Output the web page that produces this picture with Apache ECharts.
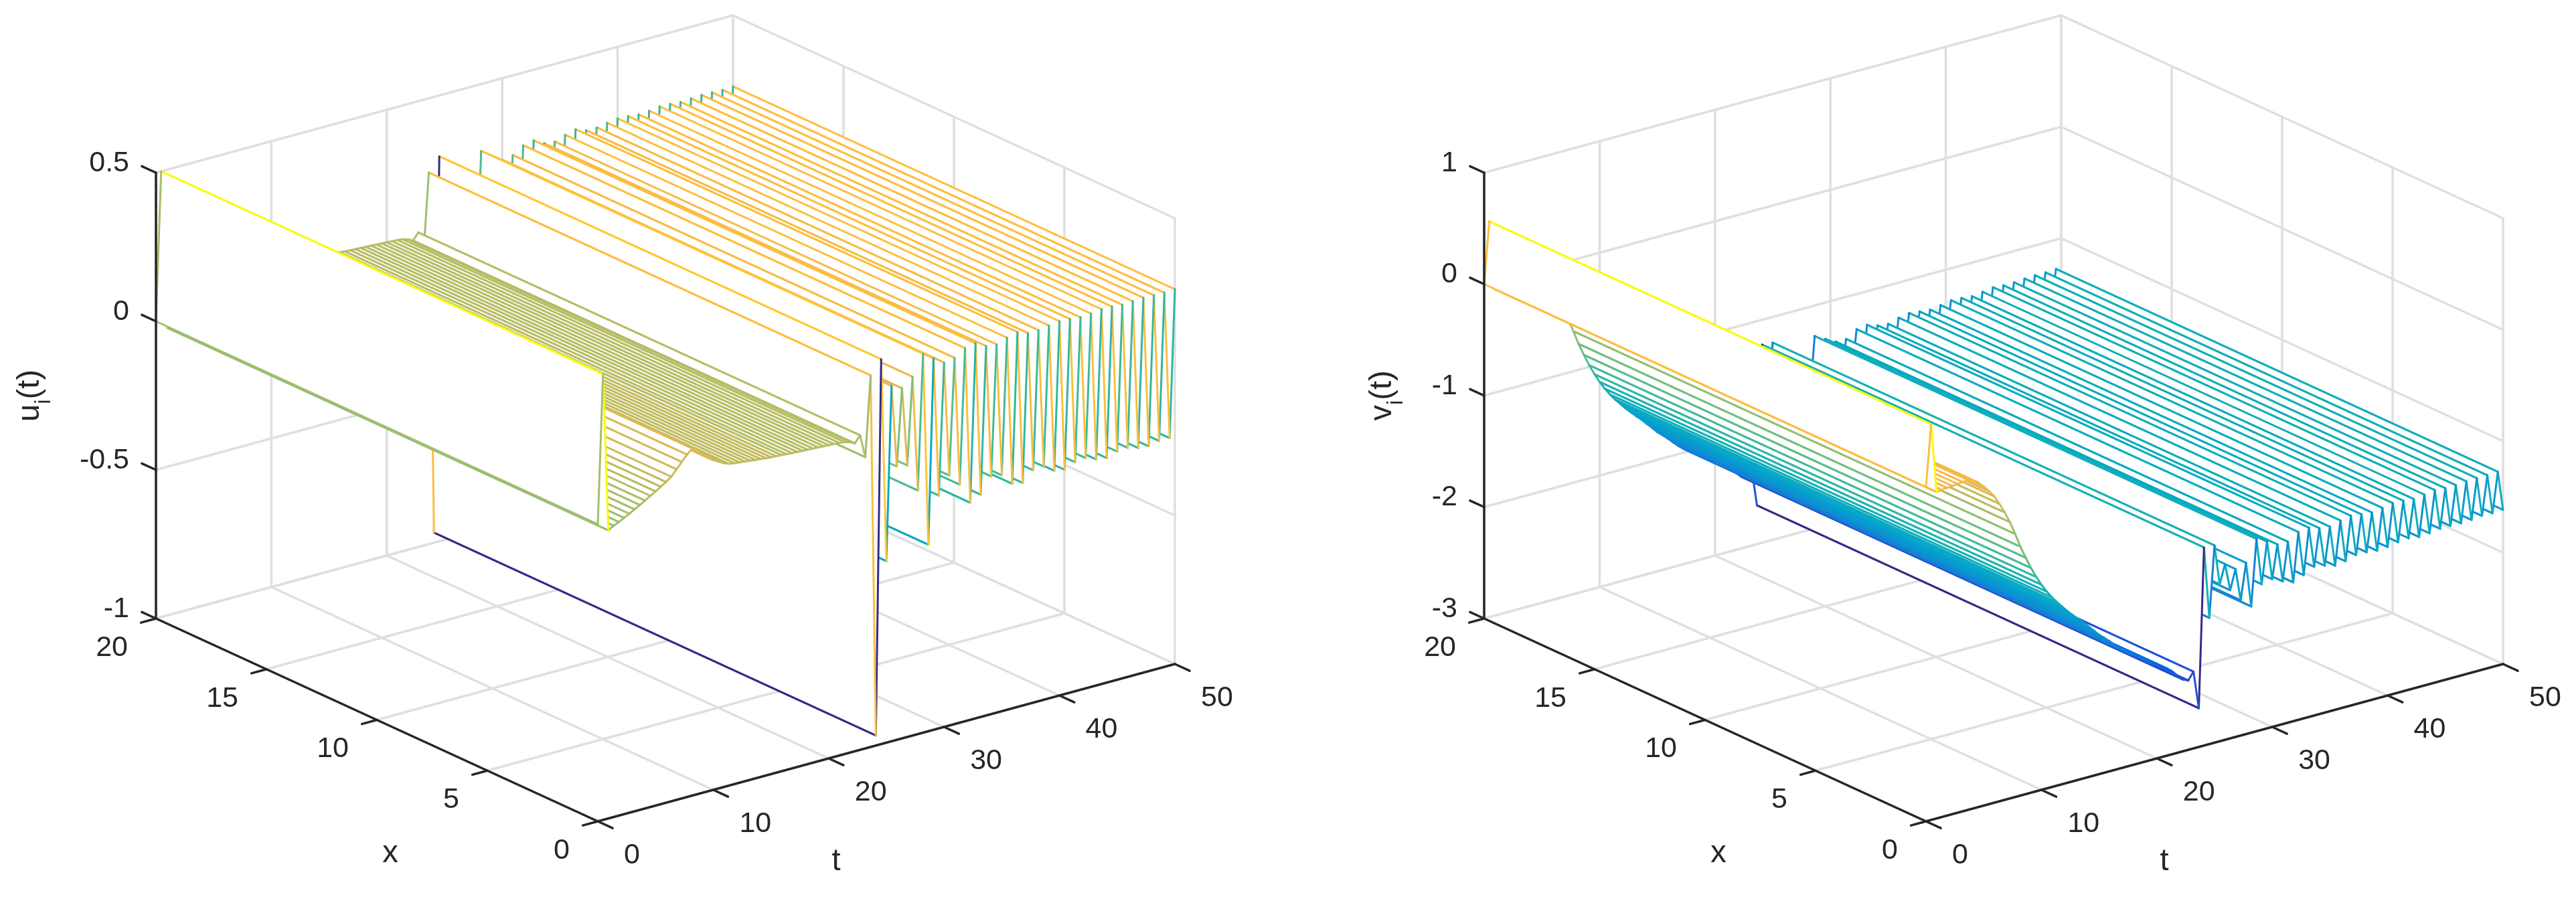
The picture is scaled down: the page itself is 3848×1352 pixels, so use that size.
<!DOCTYPE html>
<html>
<head>
<meta charset="utf-8">
<title>u_i(t), v_i(t)</title>
<script src="https://cdn.jsdelivr.net/npm/echarts@6/dist/echarts.min.js"></script>
<style>
  html, body { margin: 0; padding: 0; background: #fff; }
  #main { width: 3848px; height: 1352px; }
</style>
</head>
<body>
<div id="main"></div>
<script>
var tTicks = [0, 10, 20, 30, 40, 50];
var xTicks = [0, 5, 10, 15, 20];
var uTicks = [-1, -0.5, 0, 0.5];
var vTicks = [-3, -2, -1, 0, 1];

// time samples, every curve below has one value per sample
var tSamples = [
  0, 0.45, 0.91, 1.36, 1.82, 2.27, 2.73, 3.18, 3.64, 4.09, 4.55,
  5, 5.45, 5.91, 6.36, 6.82, 7.27, 7.73, 8.18, 8.64, 9.09, 9.55,
  10, 10.45, 10.91, 11.36, 11.82, 12.27, 12.73, 13.18, 13.64, 14.09, 14.55,
  15, 15.45, 15.91, 16.36, 16.82, 17.27, 17.73, 18.18, 18.64, 19.09, 19.55,
  20, 20.45, 20.91, 21.36, 21.82, 22.27, 22.73, 23.18, 23.64, 24.09, 24.55,
  25, 25.45, 25.91, 26.36, 26.82, 27.27, 27.73, 28.18, 28.64, 29.09, 29.55,
  30, 30.45, 30.91, 31.36, 31.82, 32.27, 32.73, 33.18, 33.64, 34.09, 34.55,
  35, 35.45, 35.91, 36.36, 36.82, 37.27, 37.73, 38.18, 38.64, 39.09, 39.55,
  40, 40.45, 40.91, 41.36, 41.82, 42.27, 42.73, 43.18, 43.64, 44.09, 44.55,
  45, 45.45, 45.91, 46.36, 46.82, 47.27, 47.73, 48.18, 48.64, 49.09, 49.55,
  50
];

var uValues = [
  0, 0.5, -0.03, -0.02, -0.012, -0.003, 0.006, 0.016, 0.026, 0.036, 0.047,
  0.057, 0.068, 0.079, 0.092, 0.112, 0.132, 0.152, 0.168, 0.155, 0.138, 0.122,
  0.11, 0.1, 0.09, 0.083, 0.08, 0.078, 0.076, 0.074, 0.072, 0.07, 0.068,
  0.066, 0.065, 0.064, 0.062, 0.061, 0.06, 0.059, 0.058, 0.057, 0.056, 0.055,
  0.054, 0.053, 0.052, 0.05, 0.045, 0.036, 0.058, -0.02, 0.25, -0.966, 0.295,
  -0.389, 0.196, -0.08, 0.178, -0.086, 0.207, -0.18, 0.275, -0.372, 0.25, -0.216,
  0.226, -0.158, 0.232, -0.199, 0.255, -0.269, 0.262, -0.252, 0.243, -0.2, 0.239,
  -0.206, 0.252, -0.244, 0.261, -0.251, 0.248, -0.218, 0.248, -0.215, 0.254, -0.239,
  0.259, -0.245, 0.257, -0.229, 0.253, -0.225, 0.256, -0.239, 0.261, -0.244, 0.26,
  -0.232, 0.257, -0.229, 0.259, -0.239, 0.261, -0.243, 0.26, -0.235, 0.259, -0.235,
  0.261
];

var vValues = [
  0, 0.55, -0.07, -0.065, -0.06, -0.055, -0.05, -0.045, -0.04, -0.06, -0.09,
  -0.136, -0.19, -0.25, -0.33, -0.42, -0.52, -0.64, -0.766, -0.878, -0.982, -1.076,
  -1.158, -1.232, -1.298, -1.356, -1.41, -1.462, -1.51, -1.556, -1.6, -1.65, -1.7,
  -1.75, -1.79, -1.834, -1.88, -1.925, -1.965, -2, -2.02, -2.06, -2.1, -2.13,
  -2.16, -2.19, -2.22, -2.26, -2.31, -2.356, -2.378, -2.311, -2.652, -1.223, -1.867,
  -1.231, -1.592, -1.423, -1.67, -1.493, -1.786, -1.464, -1.867, -1.274, -1.693, -1.325,
  -1.673, -1.375, -1.718, -1.377, -1.754, -1.316, -1.715, -1.302, -1.665, -1.333, -1.681,
  -1.344, -1.706, -1.315, -1.692, -1.299, -1.662, -1.31, -1.663, -1.32, -1.675, -1.305,
  -1.668, -1.287, -1.65, -1.292, -1.64, -1.302, -1.655, -1.288, -1.647, -1.273, -1.632,
  -1.281, -1.632, -1.28, -1.634, -1.272, -1.63, -1.268, -1.619, -1.268, -1.621, -1.263,
  -1.617
];

// parula, 64 levels
var parula = [
  [0.2081,0.1663,0.5292],[0.2116,0.1898,0.5777],[0.2123,0.2138,0.6270],[0.2081,0.2386,0.6771],
  [0.1959,0.2645,0.7279],[0.1707,0.2919,0.7792],[0.1253,0.3242,0.8303],[0.0591,0.3598,0.8683],
  [0.0117,0.3875,0.8820],[0.0060,0.4086,0.8828],[0.0165,0.4266,0.8786],[0.0329,0.4430,0.8720],
  [0.0498,0.4586,0.8641],[0.0629,0.4737,0.8554],[0.0723,0.4887,0.8467],[0.0779,0.5040,0.8384],
  [0.0793,0.5200,0.8312],[0.0749,0.5375,0.8263],[0.0641,0.5570,0.8240],[0.0488,0.5772,0.8228],
  [0.0343,0.5966,0.8199],[0.0265,0.6137,0.8135],[0.0239,0.6287,0.8038],[0.0231,0.6418,0.7913],
  [0.0228,0.6535,0.7768],[0.0267,0.6642,0.7607],[0.0384,0.6743,0.7436],[0.0590,0.6838,0.7254],
  [0.0843,0.6928,0.7062],[0.1133,0.7015,0.6859],[0.1453,0.7098,0.6646],[0.1801,0.7177,0.6424],
  [0.2178,0.7250,0.6193],[0.2586,0.7317,0.5954],[0.3022,0.7376,0.5712],[0.3482,0.7424,0.5473],
  [0.3953,0.7459,0.5244],[0.4420,0.7481,0.5033],[0.4871,0.7491,0.4840],[0.5300,0.7491,0.4661],
  [0.5709,0.7485,0.4494],[0.6099,0.7473,0.4337],[0.6473,0.7456,0.4188],[0.6834,0.7435,0.4044],
  [0.7184,0.7411,0.3905],[0.7525,0.7384,0.3768],[0.7858,0.7356,0.3633],[0.8185,0.7327,0.3498],
  [0.8507,0.7299,0.3360],[0.8824,0.7274,0.3217],[0.9139,0.7258,0.3063],[0.9450,0.7261,0.2886],
  [0.9739,0.7314,0.2666],[0.9938,0.7455,0.2403],[0.9990,0.7653,0.2164],[0.9955,0.7861,0.1967],
  [0.9880,0.8066,0.1794],[0.9789,0.8271,0.1633],[0.9697,0.8481,0.1475],[0.9626,0.8705,0.1309],
  [0.9589,0.8949,0.1132],[0.9598,0.9218,0.0948],[0.9661,0.9514,0.0755],[0.9763,0.9831,0.0538]
];

var tMax = 50, xMax = 20;
// screen span of each box edge
var tSpanX = 862, tSpanY = 235, xSpanX = 660, xSpanY = 303, zSpan = 666;
var textColor = '#262626', gridColor = '#dfdfdf';
var fontName = '"Liberation Sans", Arial, sans-serif';
var meshWidth = 3, gridWidth = 3.5, axisWidth = 3.5;

// axonometric view: (t, x, z) -> view units of the hidden cartesian axes
function project(t, x, z, zMin, zMax) {
  return [
    t / tMax * tSpanX - x / xMax * xSpanX,
    t / tMax * tSpanY + x / xMax * xSpanY + (z - zMin) / (zMax - zMin) * zSpan
  ];
}

function parulaColor(z, lo, hi) {
  var i = Math.min(63, Math.floor((z - lo) / (hi - lo) * 64));
  var c = parula[i];
  return 'rgb(' + Math.round(c[0] * 255) + ',' + Math.round(c[1] * 255) + ',' + Math.round(c[2] * 255) + ')';
}

function seg(a, b, color, width) {
  return {
    type: 'line',
    shape: { x1: a[0], y1: a[1], x2: b[0], y2: b[1] },
    style: { stroke: color, lineWidth: width, fill: null, lineCap: 'round' }
  };
}

function buildPanel(gridIndex, zTicks, zValues, labelName, labelDx) {
  var zMin = zTicks[0], zMax = zTicks[zTicks.length - 1];
  var lo = Math.min.apply(null, zValues), hi = Math.max.apply(null, zValues);
  var at = function (api, t, x, z) { return api.coord(project(t, x, z, zMin, zMax)); };

  // walls and floor
  var gridRows = [];
  tTicks.forEach(function (t) {
    gridRows.push([t, 0, zMin, t, xMax, zMin]);
    gridRows.push([t, xMax, zMin, t, xMax, zMax]);
  });
  xTicks.forEach(function (x) {
    gridRows.push([0, x, zMin, tMax, x, zMin]);
    gridRows.push([tMax, x, zMin, tMax, x, zMax]);
  });
  zTicks.forEach(function (z) {
    gridRows.push([0, xMax, z, tMax, xMax, z]);
    gridRows.push([tMax, 0, z, tMax, xMax, z]);
  });

  // back to front, so the white faces hide what is behind them
  var meshRows = [];
  for (var i = tSamples.length - 2; i >= 0; i--) {
    meshRows.push([tSamples[i], zValues[i], tSamples[i + 1], zValues[i + 1]]);
  }

  // axis lines and tick marks, tick length is 1.3 t or 0.67 x
  var axisRows = [
    [0, xMax, zMin, 0, xMax, zMax],
    [0, 0, zMin, 0, xMax, zMin],
    [0, 0, zMin, tMax, 0, zMin]
  ];
  tTicks.forEach(function (t) { axisRows.push([t, 0, zMin, t, -0.67, zMin]); });
  xTicks.forEach(function (x) { axisRows.push([0, x, zMin, -1.3, x, zMin]); });
  zTicks.forEach(function (z) { axisRows.push([0, xMax, z, 0, xMax + 0.64, z]); });

  var labelRows = [];
  tTicks.forEach(function (t) { labelRows.push([t, 0, zMin, 39, 51, 'left', String(t)]); });
  xTicks.forEach(function (x) { labelRows.push([0, x, zMin, -42, 44, 'right', String(x)]); });
  zTicks.forEach(function (z) { labelRows.push([0, xMax, z, -40, -14, 'right', String(z)]); });

  var common = {
    type: 'custom',
    xAxisIndex: gridIndex,
    yAxisIndex: gridIndex,
    silent: true,
    animation: false,
    clip: false
  };

  return [
    Object.assign({}, common, {
      name: labelName + ' grid',
      data: gridRows,
      renderItem: function (params, api) {
        var r = gridRows[params.dataIndex];
        return seg(at(api, r[0], r[1], r[2]), at(api, r[3], r[4], r[5]), gridColor, gridWidth);
      }
    }),
    Object.assign({}, common, {
      name: labelName,
      data: meshRows,
      renderItem: function (params, api) {
        var r = meshRows[params.dataIndex];
        var a = at(api, r[0], xMax, r[1]), b = at(api, r[0], 0, r[1]);
        var c = at(api, r[2], 0, r[3]), d = at(api, r[2], xMax, r[3]);
        var near = parulaColor(r[1], lo, hi), far = parulaColor(r[3], lo, hi);
        return {
          type: 'group',
          children: [
            { type: 'polygon', shape: { points: [a, b, c, d] }, style: { fill: '#fff', stroke: null } },
            seg(d, c, far, meshWidth),
            seg(a, b, near, meshWidth),
            seg(b, c, near, meshWidth),
            seg(a, d, near, meshWidth)
          ]
        };
      }
    }),
    Object.assign({}, common, {
      name: labelName + ' axes',
      data: axisRows,
      renderItem: function (params, api) {
        var r = axisRows[params.dataIndex];
        return seg(at(api, r[0], r[1], r[2]), at(api, r[3], r[4], r[5]), textColor, axisWidth);
      }
    }),
    Object.assign({}, common, {
      name: labelName + ' tick labels',
      data: labelRows,
      renderItem: function (params, api) {
        var r = labelRows[params.dataIndex];
        var p = at(api, r[0], r[1], r[2]);
        return {
          type: 'text',
          x: p[0] + r[3],
          y: p[1] + r[4],
          style: {
            text: r[6],
            font: '43px ' + fontName,
            fill: textColor,
            align: r[5],
            verticalAlign: 'middle'
          }
        };
      }
    }),
    Object.assign({}, common, {
      name: labelName + ' axis names',
      data: [0],
      renderItem: function (params, api) {
        var mid = at(api, 0, xMax / 2, zMin), midT = at(api, tMax / 2, 0, zMin);
        var side = at(api, 0, xMax, (zMin + zMax) / 2);
        var plain = { font: '47px ' + fontName, fill: textColor, align: 'center', verticalAlign: 'middle' };
        return {
          type: 'group',
          children: [
            { type: 'text', x: mid[0] + 20, y: mid[1] + 200, style: Object.assign({ text: 'x' }, plain) },
            { type: 'text', x: midT[0] - 75, y: midT[1] + 178, style: Object.assign({ text: 't' }, plain) },
            {
              type: 'text',
              x: side[0] + labelDx,
              y: side[1],
              rotation: Math.PI / 2,
              style: {
                text: '{n|' + labelName + '}{s|i}{n|(t)}',
                align: 'center',
                verticalAlign: 'middle',
                fill: textColor,
                rich: {
                  n: { font: '47px ' + fontName, fill: textColor, lineHeight: 60, verticalAlign: 'top' },
                  s: { font: '33px ' + fontName, fill: textColor, lineHeight: 60, verticalAlign: 'bottom', padding: [22, 0, 0, 0] }
                }
              }
            }
          ]
        };
      }
    })
  ];
}

function hiddenAxis(min, max) {
  return { type: 'value', min: min, max: max, show: false, splitLine: { show: false } };
}

var chart = echarts.init(document.getElementById('main'), null, { renderer: 'canvas' });
chart.setOption({
  backgroundColor: '#fff',
  animation: false,
  grid: [
    { left: 233, top: 23, width: 1522, height: 1204 },
    { left: 2217, top: 23, width: 1522, height: 1204 }
  ],
  xAxis: [
    Object.assign(hiddenAxis(-xSpanX, tSpanX), { gridIndex: 0 }),
    Object.assign(hiddenAxis(-xSpanX, tSpanX), { gridIndex: 1 })
  ],
  yAxis: [
    Object.assign(hiddenAxis(0, tSpanY + xSpanY + zSpan), { gridIndex: 0 }),
    Object.assign(hiddenAxis(0, tSpanY + xSpanY + zSpan), { gridIndex: 1 })
  ],
  series: buildPanel(0, uTicks, uValues, 'u', -181).concat(buildPanel(1, vTicks, vValues, 'v', -145))
});
</script>
</body>
</html>
